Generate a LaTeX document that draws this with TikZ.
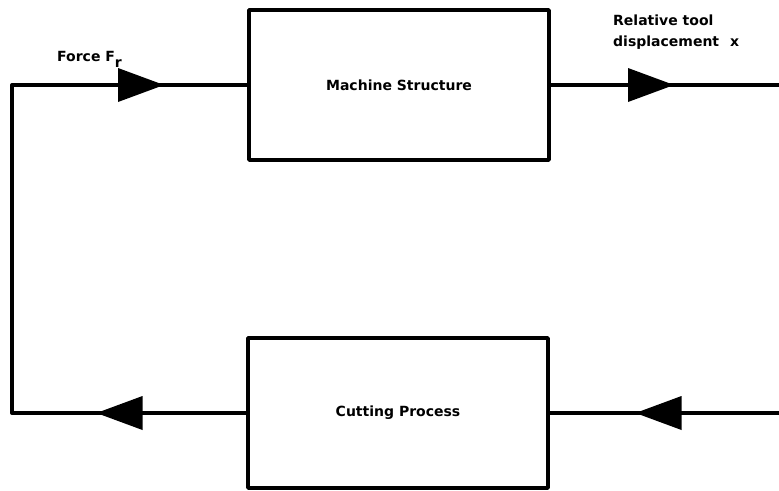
\documentclass[tikz,border=0pt]{standalone}
\usepackage{fontspec}
\setmainfont{DejaVu Sans}
\usetikzlibrary{decorations.markings}
\tikzset{
  blockbox/.style={draw, line width=3.5pt, line join=round, outer sep=0pt, inner sep=0pt,
    minimum width=300pt, minimum height=150pt, font=\bfseries\fontsize{14}{17}\selectfont},
  conn/.style={line width=4pt, line join=round},
  midarrow/.style={postaction={decorate}, decoration={markings,
    mark=at position #1 with {\fill (-23pt,-17pt) -- (23pt,0pt) -- (-23pt,17pt) -- cycle;}}},
  twoarrows/.style 2 args={postaction={decorate}, decoration={markings,
    mark=at position #1 with {\fill (-23pt,-17pt) -- (23pt,0pt) -- (-23pt,17pt) -- cycle;},
    mark=at position #2 with {\fill (-23pt,-17pt) -- (23pt,0pt) -- (-23pt,17pt) -- cycle;}}},
  lbl/.style={inner sep=0pt, anchor=base west, font=\bfseries\fontsize{14}{17}\selectfont}
}
\begin{document}
\begin{tikzpicture}[x=1pt, y=-1pt]
\useasboundingbox (0,0) rectangle (779,490);
\node[blockbox] (ms) at (399,85) {Machine Structure};
\node[blockbox] (cp) at (398,413) {Cutting Process};
\coordinate (TL) at (12,85);
\coordinate (BL) at (12,413);
\coordinate (outR) at (781,85);
\coordinate (inR) at (781,413);
\draw[conn, twoarrows={128.5pt}{693pt}] (cp.west) -- (BL) -- (TL) -- (ms.west);
\draw[conn, midarrow=102pt] (ms.east) -- (outR);
\draw[conn, midarrow=122.5pt] (inR) -- (cp.east);
\node[lbl] (force) at (57,61) {Force F\raisebox{-6pt}{r}};
\node[lbl] (rel1) at (613,25) {Relative tool};
\node[lbl] (rel2) at (613,46) {displacement\hspace{6pt} x};
\end{tikzpicture}
\end{document}
